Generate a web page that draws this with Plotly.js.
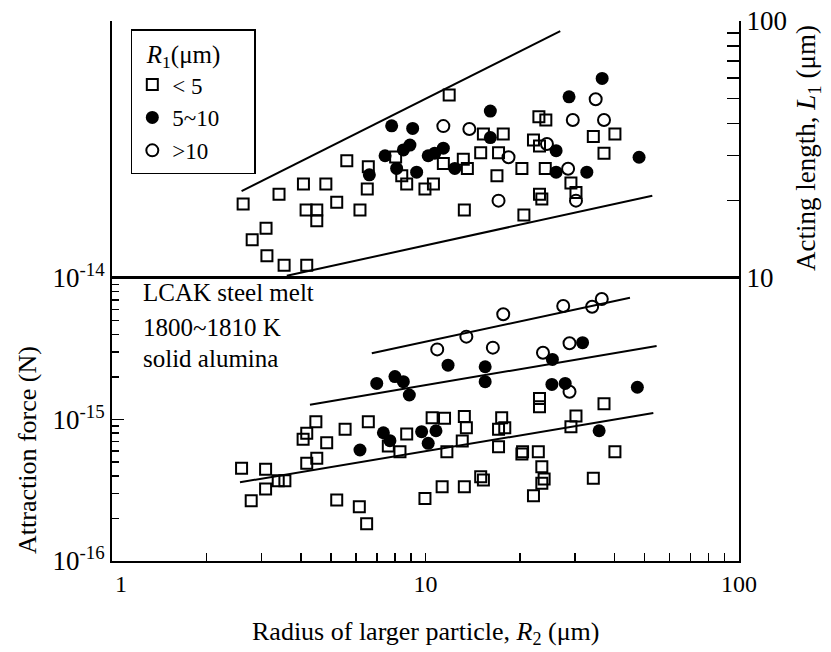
<!DOCTYPE html>
<html>
<head>
<meta charset="utf-8">
<script src="https://cdn.plot.ly/plotly-3.0.1.min.js"></script>
<style>html,body{margin:0;padding:0;background:#fff;}#chart{width:831px;height:652px;}</style>
</head>
<body>
<div id="chart"></div>
<script>
// ---- Top panel: acting length L1 (um) vs R2 (um) ----
const topSmallX = [2.62,3.41,4.08,4.81,3.10,2.80,3.12,3.54,4.18,4.16,4.50,4.50,5.21,6.18,5.61,6.57,6.52,8.03,8.40,8.71,9.96,10.6,11.4,11.9,13.2,13.6,15.3,17.7,15.0,17.1,16.9,13.3,20.3,23.0,24.2,22.1,23.1,24.1,23.1,23.5,29.1,30.2,20.6,34.3,40.2,37.1];
const topSmallY = [19.4,21.2,23.2,23.2,15.6,14.1,12.2,11.2,11.2,18.4,18.4,16.7,19.7,18.4,28.6,27.1,22.2,29.6,25.0,23.2,22.2,23.2,27.9,51.5,29.0,26.7,36.3,36.3,30.7,30.7,25.0,18.4,26.7,42.4,41.2,34.4,32.6,26.7,21.2,20.3,23.4,21.5,17.6,35.5,36.3,30.6];
const topMidX = [7.80,9.10,6.62,7.43,8.09,8.50,8.92,9.37,10.2,10.7,11.4,16.1,16.1,12.4,26.1,26.1,28.7,36.6,32.7,48.0];
const topMidY = [39.1,38.2,25.2,29.9,26.7,31.5,32.9,25.8,29.9,30.6,32.0,44.6,35.2,26.7,31.3,25.8,50.7,59.8,25.8,29.5];
const topLargeX = [11.4,13.8,18.4,24.4,29.5,34.9,37.1,28.5,17.1,30.2];
const topLargeY = [39.0,38.0,29.5,33.2,41.2,49.6,41.2,26.6,20.0,20.0];
const boundUpperX = [2.59,26.9], boundUpperY = [21.8,91.4];
const boundLowerX = [3.61,52.9], boundLowerY = [10.2,20.9];

// ---- Bottom panel: attraction force (N) vs R2 (um) ----
const botSmallX = [2.59,2.78,3.09,3.09,3.39,3.56,4.07,4.18,4.47,4.84,4.18,4.50,5.54,6.57,5.21,6.15,6.49,7.61,8.29,8.71,9.96,11.3,10.5,11.5,11.7,13.3,13.5,13.1,13.3,15.0,15.3,17.5,17.1,17.9,17.1,20.4,20.3,22.9,23.5,23.9,23.5,22.1,23.1,23.1,30.2,29.1,37.1,34.3,40.2];
const botSmallF = [4.52e-16,2.67e-16,4.45e-16,3.23e-16,3.69e-16,3.69e-16,7.25e-16,7.99e-16,9.65e-16,6.86e-16,4.90e-16,5.32e-16,8.52e-16,9.65e-16,2.70e-16,2.42e-16,1.83e-16,6.50e-16,5.92e-16,7.90e-16,2.77e-16,3.35e-16,1.03e-15,1.02e-15,5.92e-16,1.05e-15,8.75e-16,7.05e-16,3.35e-16,3.94e-16,3.74e-16,1.03e-15,8.52e-16,8.75e-16,6.43e-16,5.92e-16,5.71e-16,5.92e-16,4.64e-16,3.80e-16,3.54e-16,2.89e-16,1.41e-15,1.23e-15,1.06e-15,8.89e-16,1.29e-15,3.84e-16,5.92e-16];
const botMidX = [6.99,7.99,8.50,8.88,6.18,7.34,7.70,9.72,10.2,10.8,11.8,15.5,15.5,25.4,25.3,27.9,31.7,35.8,47.4];
const botMidF = [1.80e-15,2.01e-15,1.85e-15,1.49e-15,6.09e-16,8.06e-16,7.08e-16,8.20e-16,6.79e-16,8.33e-16,2.42e-15,2.36e-15,1.85e-15,2.66e-15,1.77e-15,1.80e-15,3.49e-15,8.33e-16,1.69e-15];
const botLargeX = [10.9,13.5,17.7,16.4,27.5,34.0,36.5,28.8,23.7,28.8];
const botLargeF = [3.13e-15,3.85e-15,5.54e-15,3.22e-15,6.34e-15,6.27e-15,7.11e-15,3.46e-15,2.96e-15,1.57e-15];
const fitSmallX = [2.56,53.3], fitSmallF = [3.6e-16,1.11e-15];
const fitMidX = [4.28,54.6], fitMidF = [1.27e-15,3.31e-15];
const fitLargeX = [6.74,44.9], fitLargeF = [2.94e-15,7.26e-15];

// ---- Labels ----
const groupNames = ['&lt; 5', '5~10', '&gt;10'];
const legendTitle = '&nbsp;&nbsp;<i>R</i><sub>1</sub>(μm)&nbsp;&nbsp;&nbsp;&nbsp;&nbsp;';
const xTickVals = [1, 10, 100], xTickText = ['&nbsp;&nbsp;&nbsp;1', '10', '100'];
const xMinorVals = [2,3,4,5,6,7,8,9,20,30,40,50,60,70,80,90];
const yTickVals = [1e-16, 1e-15, 1e-14], yTickText = ['10<sup>-16</sup>', '10<sup>-15</sup>', '10<sup>-14</sup>'];
const yMinorVals = [2e-16,3e-16,4e-16,5e-16,6e-16,7e-16,8e-16,9e-16,2e-15,3e-15,4e-15,5e-15,6e-15,7e-15,8e-15,9e-15];
const y2TickVals = [10, 100], y2TickText = ['10', '100'];
const y2MinorVals = [20,30,40,50,60,70,80,90];

const FONT = 'Liberation Serif, Times New Roman, serif';
const sqMarker = {symbol: 'square-open', size: 11, color: 'black', line: {width: 2, color: 'black'}};
const fcMarker = {symbol: 'circle', size: 13, color: 'black', line: {width: 0}};
const ocMarker = {symbol: 'circle-open', size: 12, color: 'black', line: {width: 2, color: 'black'}};
const lineStyle = {color: 'black', width: 2};

function line(x, y, ya) {
  return {x: x, y: y, yaxis: ya, type: 'scatter', mode: 'lines', line: lineStyle, showlegend: false, hoverinfo: 'skip'};
}
function pts(x, y, ya, marker, name, group, show) {
  return {x: x, y: y, yaxis: ya, type: 'scatter', mode: 'markers', marker: marker, name: name, legendgroup: group, showlegend: show};
}

const traces = [
  line(boundUpperX, boundUpperY, 'y2'),
  line(boundLowerX, boundLowerY, 'y2'),
  line(fitSmallX, fitSmallF, 'y'),
  line(fitMidX, fitMidF, 'y'),
  line(fitLargeX, fitLargeF, 'y'),
  pts(botSmallX, botSmallF, 'y', sqMarker, groupNames[0], 'a', true),
  pts(botMidX, botMidF, 'y', fcMarker, groupNames[1], 'b', true),
  pts(botLargeX, botLargeF, 'y', ocMarker, groupNames[2], 'c', true),
  pts(topSmallX, topSmallY, 'y2', sqMarker, groupNames[0], 'a', false),
  pts(topMidX, topMidY, 'y2', fcMarker, groupNames[1], 'b', false),
  pts(topLargeX, topLargeY, 'y2', ocMarker, groupNames[2], 'c', false)
];

const split = 283 / 540;
const xTickFont = {family: FONT, size: 24, color: 'black'};
const yTickFont = {family: FONT, size: 27, color: 'black'};

const layout = {
  width: 831, height: 652,
  margin: {l: 112, r: 92, t: 21, b: 91},
  paper_bgcolor: 'white', plot_bgcolor: 'white',
  font: {family: FONT, color: 'black'},
  showlegend: true,
  legend: {
    x: 0.03, y: 0.985, xanchor: 'left', yanchor: 'top',
    bgcolor: 'white', bordercolor: 'black', borderwidth: 1.5,
    font: {family: FONT, size: 23, color: 'black'},
    title: {text: legendTitle, font: {family: FONT, size: 25, color: 'black'}},
    tracegroupgap: 0, itemwidth: 30
  },
  xaxis: {
    type: 'log', range: [0, 2], anchor: 'y',
    showline: true, linecolor: 'black', linewidth: 2, mirror: true,
    showgrid: false, zeroline: false,
    tickmode: 'array', tickvals: xTickVals, ticktext: xTickText,
    ticks: 'inside', ticklen: 8, tickwidth: 1.5, tickcolor: 'black',
    tickfont: xTickFont,
    minor: {tickmode: 'array', tickvals: xMinorVals, ticks: 'inside', ticklen: 8, tickwidth: 1.5, tickcolor: 'black', showgrid: false}
  },
  yaxis: {
    type: 'log', range: [-16, -14], domain: [0, split], anchor: 'x',
    showline: true, linecolor: 'black', linewidth: 2, mirror: true,
    showgrid: false, zeroline: false,
    tickmode: 'array', tickvals: yTickVals, ticktext: yTickText,
    ticks: 'inside', ticklen: 12, tickwidth: 1.5, tickcolor: 'black',
    tickfont: yTickFont,
    minor: {tickmode: 'array', tickvals: yMinorVals, ticks: 'inside', ticklen: 7, tickwidth: 1.5, tickcolor: 'black', showgrid: false}
  },
  yaxis2: {
    type: 'log', range: [1, 2], domain: [split, 1], anchor: 'x', side: 'right',
    showline: true, linecolor: 'black', linewidth: 2, mirror: true,
    showgrid: false, zeroline: false,
    tickmode: 'array', tickvals: y2TickVals, ticktext: y2TickText,
    ticks: 'inside', ticklen: 12, tickwidth: 1.5, tickcolor: 'black',
    tickfont: yTickFont,
    minor: {tickmode: 'array', tickvals: y2MinorVals, ticks: 'inside', ticklen: 12, tickwidth: 1.5, tickcolor: 'black', showgrid: false}
  },
  shapes: [
    {type: 'line', xref: 'paper', yref: 'paper', x0: 0, x1: 1, y0: split, y1: split, line: {color: 'black', width: 2}}
  ],
  annotations: [
    {text: 'LCAK steel melt', xref: 'paper', yref: 'paper', x: 0.047, y: 0.4963, xanchor: 'left', yanchor: 'middle', showarrow: false, font: {family: FONT, size: 25, color: 'black'}},
    {text: '1800~1810 K', xref: 'paper', yref: 'paper', x: 0.047, y: 0.4333, xanchor: 'left', yanchor: 'middle', showarrow: false, font: {family: FONT, size: 25, color: 'black'}},
    {text: 'solid alumina', xref: 'paper', yref: 'paper', x: 0.047, y: 0.3741, xanchor: 'left', yanchor: 'middle', showarrow: false, font: {family: FONT, size: 25, color: 'black'}},
    {text: 'Attraction force (N)', xref: 'paper', yref: 'paper', x: -0.134, y: 0.2056, xanchor: 'center', yanchor: 'middle', textangle: -90, showarrow: false, font: {family: FONT, size: 26, color: 'black'}},
    {text: 'Acting length, <i>L</i><sub>1</sub> (μm)', xref: 'paper', yref: 'paper', x: 1.110, y: 0.7648, xanchor: 'center', yanchor: 'middle', textangle: -90, showarrow: false, font: {family: FONT, size: 27, color: 'black'}},
    {text: 'Radius of larger particle, <i>R</i><sub>2</sub> (μm)', xref: 'paper', yref: 'paper', x: 0.5, y: -0.1333, xanchor: 'center', yanchor: 'middle', showarrow: false, font: {family: FONT, size: 26, color: 'black'}}
  ]
};

Plotly.newPlot('chart', traces, layout, {displayModeBar: false, staticPlot: true});
</script>
</body>
</html>
